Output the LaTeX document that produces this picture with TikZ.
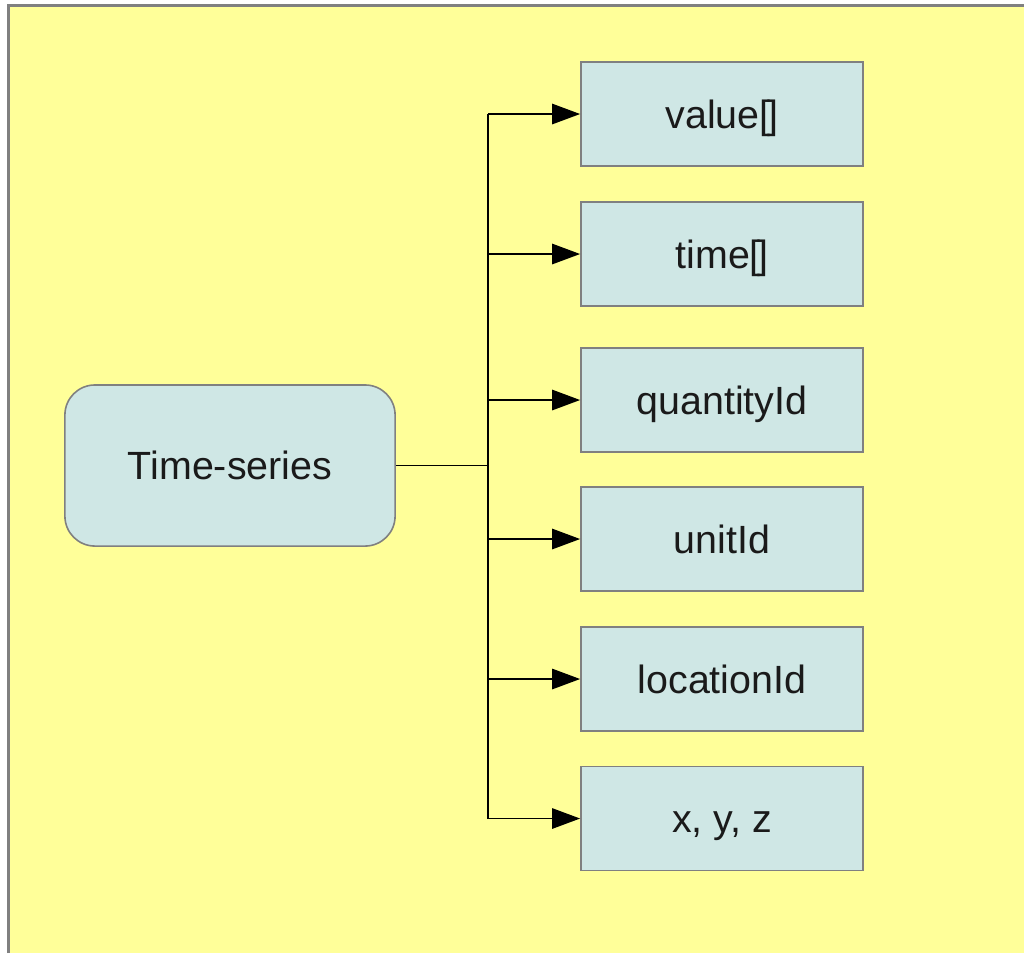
\documentclass[tikz,border=0pt]{standalone}
\usepackage{fontspec}
\setmainfont{Liberation Sans}
\usetikzlibrary{arrows.meta}
\definecolor{bgyellow}{HTML}{FFFF99}
\definecolor{boxfill}{HTML}{CFE7E5}
\definecolor{boxline}{HTML}{808080}
\definecolor{txt}{HTML}{1A1A1A}
\tikzset{
  field/.style={draw=boxline, line width=0.45pt, fill=boxfill, minimum width=2.82cm, minimum height=1.04cm, inner sep=0pt, text height=8pt, text depth=0pt, text=txt, font=\fontsize{11.2}{13.4}\selectfont},
  root/.style={draw=boxline, line width=0.45pt, fill=boxfill, rounded corners=0.3cm, minimum width=3.3cm, minimum height=1.61cm, inner sep=0pt, text height=8pt, text depth=0pt, text=txt, font=\fontsize{11.2}{13.4}\selectfont},
  conn/.style={line width=0.55pt, black},
  arr/.style={conn, -{Triangle[length=8pt, width=5.8pt]}}
}
\newcommand{\tofu}{[\kern-0.085em]}
\begin{document}
\begin{tikzpicture}[x=0.01cm, y=-0.01cm]
\useasboundingbox (0,0) rectangle (1024,953);
\fill[bgyellow] (9,6) rectangle (1024,953);
\draw[boxline, line width=0.6pt] (8.5,953) -- (8.5,5.5) -- (1024,5.5);
\node[root] (ts) at (230,465.5) {Time-series};
\node[field] (f1) at (722,114) {value\tofu};
\node[field] (f2) at (722,254) {time\tofu};
\node[field] (f3) at (722,400) {quantityId};
\node[field] (f4) at (722,539) {unitId};
\node[field] (f5) at (722,679) {locationId};
\node[field] (f6) at (722,818.5) {x, y, z};
\coordinate (j) at (488,465.5);
\coordinate (jt) at (488,114);
\coordinate (jb) at (488,818.5);
\draw[conn] (ts.east) -- (j);
\draw[conn] (jt) -- (jb);
\foreach \n in {f1,f2,f3,f4,f5,f6}{
  \draw[arr] (j |- \n.west) -- (\n.west);
}
\end{tikzpicture}
\end{document}
